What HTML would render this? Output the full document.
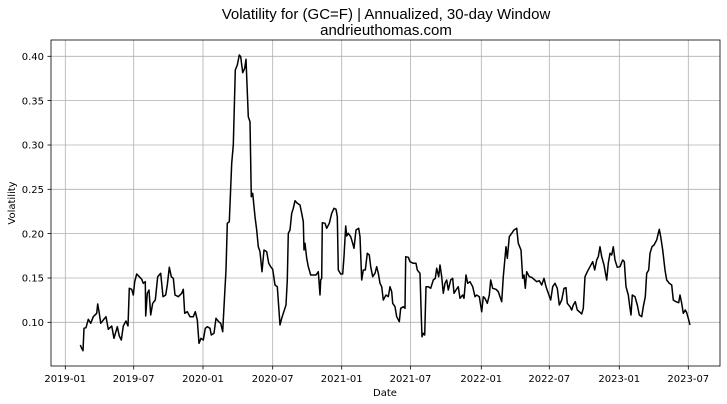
<!DOCTYPE html>
<html><head><meta charset="utf-8"><style>
html,body{margin:0;padding:0;background:#fff;}
svg{display:block;}
text{font-family:"DejaVu Sans","Liberation Sans",sans-serif;font-size:10px;fill:#000;}
</style></head><body>
<svg width="727" height="404" viewBox="0 0 727 404" xmlns="http://www.w3.org/2000/svg">
<rect width="727" height="404" fill="#fff"/>
<text x="386" y="19" text-anchor="middle" style="font-family:'Liberation Sans',sans-serif;font-size:15px">Volatility for (GC=F) | Annualized, 30-day Window</text>
<text x="386" y="35" text-anchor="middle" style="font-family:'Liberation Sans',sans-serif;font-size:15px">andrieuthomas.com</text>
<g stroke="#b0b0b0" stroke-width="0.8">
<line x1="51" x2="720" y1="322.3" y2="322.3"/>
<line x1="51" x2="720" y1="278" y2="278"/>
<line x1="51" x2="720" y1="233.6" y2="233.6"/>
<line x1="51" x2="720" y1="189.3" y2="189.3"/>
<line x1="51" x2="720" y1="145" y2="145"/>
<line x1="51" x2="720" y1="100.6" y2="100.6"/>
<line x1="51" x2="720" y1="56.3" y2="56.3"/>
<line y1="40" y2="366" x1="65.3" x2="65.3"/>
<line y1="40" y2="366" x1="133.7" x2="133.7"/>
<line y1="40" y2="366" x1="203" x2="203"/>
<line y1="40" y2="366" x1="272.7" x2="272.7"/>
<line y1="40" y2="366" x1="341.7" x2="341.7"/>
<line y1="40" y2="366" x1="410.5" x2="410.5"/>
<line y1="40" y2="366" x1="481.3" x2="481.3"/>
<line y1="40" y2="366" x1="549.3" x2="549.3"/>
<line y1="40" y2="366" x1="619.3" x2="619.3"/>
<line y1="40" y2="366" x1="688.3" x2="688.3"/>
</g>
<polyline fill="none" stroke="#000" stroke-width="1.5" stroke-linejoin="round" points="80.3,345 81.7,348.3 83,350.7 84,328.3 86,327.7 88.3,319.3 90.7,323.3 93.3,316.7 96.7,313.3 97.7,304 99.3,313.3 100.7,323.3 103.3,320 106,316.7 108.3,329.3 111.7,326 114,338.3 117.3,326.7 119.3,336 121.3,340 123.3,326 126,321 128,326 129.3,288.3 131.7,289.3 133.3,295 134.7,281.7 136.7,274 139.3,276.7 141.7,279.3 143.3,283.3 145.3,281.7 145.7,316 147.3,293.3 149,290 150.7,315 152.7,303.3 155.3,300 157.7,276.7 160.7,273.3 163,296.7 165.7,295 167.3,285 169.3,267.3 171.3,276.7 173.3,278.3 175,295 178.3,296.7 181.7,293.3 183.3,289.3 184.7,313.3 187.3,311.7 190,316.7 193.3,316.7 195.3,311.7 197.3,320 199,343.3 201,338.3 203.3,340 205.3,328.3 207.3,326.7 210,328.3 211.3,335 214,333.3 216,318.3 218.7,321.7 220.7,323.3 222.7,331.7 224,306.7 226,270 227.3,223.3 229.3,221.7 231.7,163.3 233.3,145 235.3,70 237.3,65 239.3,55 240.7,56.7 242.7,72.7 244.7,68.3 246,59.3 248.3,116.7 250,121.7 251.3,196.7 252.7,193.3 255,216.7 256.7,230 258.3,246.7 260,251.7 262,271.7 264,250 266.7,251.7 268.7,263.3 270.7,266.7 272.7,269.3 275,285 277.3,286.7 280,325 281.7,318.3 283.3,313.3 286,305 287.3,280 288.3,233.3 290,230 291.7,213.3 293.3,208.3 295,200.7 297.3,203.3 300,205 301.7,213.3 303.3,221.7 304,250 305,243.3 306.7,258.3 308.3,266.7 310.7,275 313.3,275 316,275 318.3,271.7 320,295 320.7,280 321.7,278.3 322.3,222.7 325,223.3 326.7,228.3 329.3,223.3 331.7,213.3 334,208.3 336,209.3 337.3,216.7 338.3,270 340.7,274 342.7,274 344,256.7 345.7,226 346.7,236 348.3,233.3 350.7,236.7 352.7,243.3 354,248.3 356,230 358.7,228.3 360,236.7 361.7,280 363.3,270 365.3,270 367.3,253.3 369.3,255 370.7,266.7 372.7,276.7 375,273.3 376.7,266.7 378.3,273.3 380,283.3 381.7,286.7 383.3,300 386,295 388.3,296.7 390,286.7 391.7,291.7 392.7,303.3 395,306.7 396.7,316.7 399.3,321.7 400.7,308.3 403.3,306.7 405,308.3 405.7,256.7 408.3,257.3 410,261.7 413.3,263.3 416,263.3 417.3,270 420,273.3 421.3,316.7 422,336.7 423.3,333.3 424.7,335 426,286.7 428.3,286.7 430.7,288.3 433.3,280 435.3,278.3 436.7,268.3 438.7,276.7 440,265 441.7,276.7 443.3,293.3 445,283.3 446.7,280 448.3,290 450.7,280 452.7,278.3 454,293.3 456,290 458.3,286.7 460,298.3 462.7,295 464,298.3 466,275 467.7,283.3 470,281.7 472.7,286.7 475,296.7 476.7,295 479.3,296.7 481.7,311.7 483.3,296.7 485,298.3 487.3,303.3 489.3,295 490.7,280 492.7,288.3 496,289.3 498.3,291.7 500,296.7 501.7,301.7 503.3,276.7 506,246.7 507.3,258.3 509.3,236.7 511.7,233.3 514,230 516.7,228.3 518.3,243.3 521,250 522.7,278.3 524,275 525.3,288.3 526.7,271.7 529.3,276.7 531.7,277.3 534,279.3 536.7,281.7 539.3,280.7 541.7,285 544,278.3 546,286.7 548.3,293.3 550.7,300 552.7,286.7 555,283.3 557.3,288.3 559.3,305 561.7,300 564,288.3 566,287.7 567.3,303.3 570,306.7 571.7,310 573.3,305 575.3,301.7 577.3,310 579.3,311.7 581.7,314 583.3,308.3 585,276.7 587.3,271.7 590,266.7 592.7,261.7 594.7,270 596.7,260 598.3,256.7 600,246.7 601.7,256.7 604,265 606.7,280 608.3,263.3 610,253.3 611.7,255 613.3,246.7 615,260 617.3,267.3 620,266.7 622.7,260 624.3,261.7 626,286.7 628.3,295 630,308.3 631,315 632.3,295 635,296.7 637.3,305 639.3,315 641.7,316.7 643.3,306.7 645.3,296.7 646.7,273.3 648.7,270 650,253.3 652,246.7 654,245 656.7,240 658.3,233.3 659.3,229.3 660.7,236.7 662.7,250 665,270 666.7,280 669.3,283.3 671.7,285 673.3,300 676,301.7 678.7,302.7 680,295 681.7,303.3 683.3,313.3 685.3,310 686.7,312.7 688.3,318.3 690,325"/>
<rect x="51" y="40" width="669" height="326" fill="none" stroke="#000" stroke-width="0.8"/>
<g stroke="#000" stroke-width="0.8">
<line x1="47.5" x2="51" y1="322.3" y2="322.3"/><line x1="47.5" x2="51" y1="278" y2="278"/><line x1="47.5" x2="51" y1="233.6" y2="233.6"/><line x1="47.5" x2="51" y1="189.3" y2="189.3"/><line x1="47.5" x2="51" y1="145" y2="145"/><line x1="47.5" x2="51" y1="100.6" y2="100.6"/><line x1="47.5" x2="51" y1="56.3" y2="56.3"/>
<line y1="366" y2="369.5" x1="65.3" x2="65.3"/><line y1="366" y2="369.5" x1="133.7" x2="133.7"/><line y1="366" y2="369.5" x1="203" x2="203"/><line y1="366" y2="369.5" x1="272.7" x2="272.7"/><line y1="366" y2="369.5" x1="341.7" x2="341.7"/><line y1="366" y2="369.5" x1="410.5" x2="410.5"/><line y1="366" y2="369.5" x1="481.3" x2="481.3"/><line y1="366" y2="369.5" x1="549.3" x2="549.3"/><line y1="366" y2="369.5" x1="619.3" x2="619.3"/><line y1="366" y2="369.5" x1="688.3" x2="688.3"/>
</g>
<g text-anchor="end">
<text x="44" y="326">0.10</text><text x="44" y="281.7">0.15</text><text x="44" y="237.3">0.20</text><text x="44" y="193">0.25</text><text x="44" y="148.7">0.30</text><text x="44" y="104.3">0.35</text><text x="44" y="60">0.40</text>
</g>
<g text-anchor="middle">
<text x="65.3" y="382">2019-01</text><text x="133.7" y="382">2019-07</text><text x="203" y="382">2020-01</text><text x="272.7" y="382">2020-07</text><text x="341.7" y="382">2021-01</text><text x="410.5" y="382">2021-07</text><text x="481.3" y="382">2022-01</text><text x="549.3" y="382">2022-07</text><text x="619.3" y="382">2023-01</text><text x="688.3" y="382">2023-07</text>
<text x="385" y="396">Date</text>
<text x="0" y="0" transform="translate(15,203) rotate(-90)">Volatility</text>
</g>
</svg>
</body></html>
